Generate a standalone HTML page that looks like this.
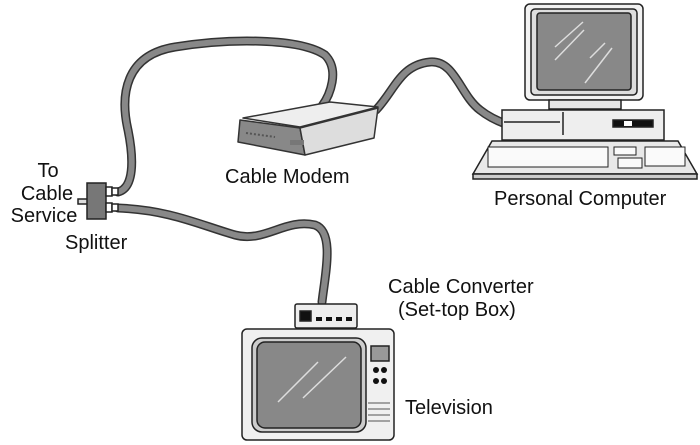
<!DOCTYPE html>
<html><head><style>body{margin:0;background:#fff}svg{display:block}text{font-family:"Liberation Sans",sans-serif;font-size:20px;fill:#111}</style></head><body>
<svg width="700" height="445" viewBox="0 0 700 445" xmlns="http://www.w3.org/2000/svg">
<g fill="none" stroke-linecap="round" stroke-linejoin="round">
<path d="M118,192 C134,188 134,160 128,130 C120,95 125,55 175,47 C230,38 300,38 325,55 C340,70 330,95 322,106" stroke="#333" stroke-width="9"/>
<path d="M118,192 C134,188 134,160 128,130 C120,95 125,55 175,47 C230,38 300,38 325,55 C340,70 330,95 322,106" stroke="#888" stroke-width="6"/>
<path d="M376,110 C395,90 400,65 430,62 C455,60 460,95 480,110 C495,122 515,128 535,132" stroke="#333" stroke-width="9"/>
<path d="M376,110 C395,90 400,65 430,62 C455,60 460,95 480,110 C495,122 515,128 535,132" stroke="#888" stroke-width="6"/>
<path d="M118,208 C170,210 200,225 235,235 C265,243 285,218 315,225 C335,232 325,275 322,302" stroke="#333" stroke-width="9"/>
<path d="M118,208 C170,210 200,225 235,235 C265,243 285,218 315,225 C335,232 325,275 322,302" stroke="#888" stroke-width="6"/>
</g>
<g stroke="#333" stroke-width="1.5" stroke-linejoin="round">
<polygon points="243,118 330,102 378,107 300,127" fill="#eee"/>
<polygon points="240,120 300,128 305,155 238,142" fill="#888"/>
<polygon points="300,128 378,108 374,138 305,155" fill="#ddd"/>
<line x1="246" y1="133" x2="275" y2="137" stroke="#555" stroke-width="2" stroke-dasharray="2,2"/>
<rect x="290" y="140" width="14" height="5" fill="#777" stroke="none"/>
</g>
<g stroke="#222" stroke-width="1.5">
<rect x="525" y="4" width="118" height="96" rx="5" fill="#f2f2f2"/>
<rect x="531" y="9" width="106" height="86" rx="4" fill="#ddd"/>
<rect x="537" y="13" width="94" height="77" rx="3" fill="#888"/>
<rect x="549" y="100" width="72" height="9" fill="#e6e6e6"/>
<rect x="502" y="110" width="162" height="30" fill="#eee"/>
<line x1="504" y1="122" x2="560" y2="122"/>
<line x1="563" y1="112" x2="563" y2="135"/>
<rect x="613" y="120" width="40" height="7" fill="#111"/>
<rect x="624" y="121" width="8" height="5" fill="#fff" stroke="none"/>
<polygon points="492,141 678,141 697,174 473,174" fill="#e8e8e8"/>
<rect x="473" y="174" width="224" height="5" fill="#ccc"/>
<rect x="488" y="147" width="120" height="20" fill="#fafafa" stroke-width="1"/>
<rect x="614" y="147" width="22" height="8" fill="#fafafa" stroke-width="1"/>
<rect x="618" y="158" width="24" height="10" fill="#fafafa" stroke-width="1"/>
<rect x="645" y="147" width="40" height="19" fill="#fafafa" stroke-width="1"/>
</g>
<g stroke="#ddd" stroke-width="1.5"><line x1="555" y1="47" x2="583" y2="22"/><line x1="555" y1="60" x2="584" y2="30"/><line x1="590" y1="58" x2="605" y2="43"/><line x1="585" y1="83" x2="612" y2="48"/></g>
<g stroke="#222" stroke-width="1.5">
<rect x="78" y="199" width="10" height="5" fill="#ddd"/>
<rect x="87" y="183" width="19" height="36" fill="#777"/>
<rect x="106" y="187" width="6" height="9" fill="#fff"/>
<rect x="112" y="188" width="6" height="7" fill="#fff"/>
<rect x="106" y="203" width="6" height="9" fill="#fff"/>
<rect x="112" y="204" width="6" height="7" fill="#fff"/>
</g>
<g stroke="#222" stroke-width="1.5">
<rect x="295" y="304" width="62" height="24" rx="2" fill="#eee"/>
<rect x="300" y="311" width="11" height="10" fill="#111"/>
</g>
<g fill="#111"><rect x="316" y="317" width="6" height="4"/><rect x="326" y="317" width="6" height="4"/><rect x="336" y="317" width="6" height="4"/><rect x="346" y="317" width="6" height="4"/></g>
<g stroke="#222" stroke-width="1.5">
<rect x="242" y="329" width="152" height="111" rx="5" fill="#f0f0f0"/>
<rect x="252" y="338" width="114" height="94" rx="10" fill="#ccc"/>
<rect x="257" y="342" width="104" height="86" rx="8" fill="#888"/>
<rect x="371" y="346" width="18" height="15" fill="#999"/>
</g>
<g fill="#111"><circle cx="376" cy="370" r="3"/><circle cx="384" cy="370" r="3"/><circle cx="376" cy="381" r="3"/><circle cx="384" cy="381" r="3"/></g>
<g stroke="#555" stroke-width="1"><line x1="368" y1="403" x2="390" y2="403"/><line x1="368" y1="409" x2="390" y2="409"/><line x1="368" y1="415" x2="390" y2="415"/><line x1="368" y1="421" x2="390" y2="421"/></g>
<g stroke="#ddd" stroke-width="1.5"><line x1="278" y1="402" x2="318" y2="362"/><line x1="303" y1="398" x2="346" y2="357"/></g>
<text x="48" y="177" text-anchor="middle">To</text>
<text x="47" y="200" text-anchor="middle">Cable</text>
<text x="44" y="222" text-anchor="middle">Service</text>
<text x="65" y="249">Splitter</text>
<text x="225" y="183">Cable Modem</text>
<text x="494" y="205">Personal Computer</text>
<text x="388" y="293">Cable Converter</text>
<text x="398" y="316">(Set-top Box)</text>
<text x="405" y="414">Television</text>
</svg>
</body></html>
